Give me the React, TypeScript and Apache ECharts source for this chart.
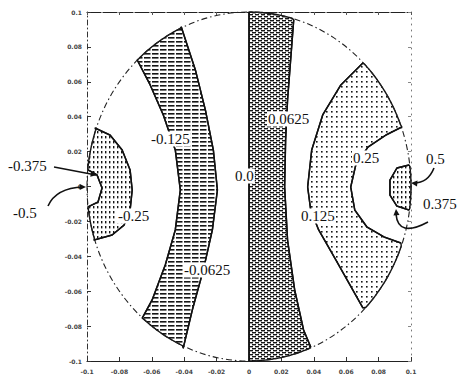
import React, { useEffect, useRef } from "react";
import * as echarts from "echarts";

// Axis extent (data units)
const AXIS_MIN = -0.1;
const AXIS_MAX = 0.1;
const AXIS_STEP = 0.02;
const DISK_RADIUS = 0.1;

// Contour lines, each from top (circle) to bottom (circle), [x, y]
const contourM0375 = [[-0.0994, 0.0095], [-0.0938, 0.0066], [-0.0907, -0.0009], [-0.0932, -0.0089], [-0.0994, -0.0117]];
const contourM025 = [[-0.095, 0.0335], [-0.0858, 0.0295], [-0.0783, 0.0209], [-0.0734, 0.0095], [-0.0721, -0.002], [-0.0734, -0.0135], [-0.0771, -0.0221], [-0.0845, -0.0278], [-0.0957, -0.0307]];
const contourM0125 = [[-0.069, 0.0725], [-0.061, 0.0582], [-0.0529, 0.041], [-0.0455, 0.0209], [-0.0424, -0.002], [-0.0455, -0.0249], [-0.0517, -0.045], [-0.0598, -0.065], [-0.0659, -0.0754]];
const contourM00625 = [[-0.0418, 0.0914], [-0.0331, 0.0668], [-0.0269, 0.0438], [-0.022, 0.0209], [-0.0195, -0.002], [-0.0226, -0.0249], [-0.0282, -0.0479], [-0.035, -0.0708], [-0.0406, -0.0926]];
const contour0 = [[0, 0.1], [0, -0.1]];
const contourP00625 = [[0.0276, 0.0954], [0.0257, 0.0725], [0.0238, 0.0496], [0.0226, 0.0266], [0.022, -0.0003], [0.0238, -0.0307], [0.0282, -0.0593], [0.0337, -0.0822], [0.0381, -0.092]];
const contourP0125 = [[0.0703, 0.0708], [0.0567, 0.0582], [0.0455, 0.041], [0.0387, 0.0209], [0.0362, -0.0003], [0.0381, -0.0135], [0.043, -0.0249], [0.0536, -0.0421], [0.0703, -0.0696]];
const contourP025 = [[0.0944, 0.0341], [0.0845, 0.0295], [0.0734, 0.0226], [0.0659, 0.0123], [0.0628, -0.0003], [0.0653, -0.0135], [0.0728, -0.0232], [0.0833, -0.0289], [0.0938, -0.0324]];
const contourP0375 = [[0.0988, 0.0123], [0.0913, 0.0106], [0.087, 0.0037], [0.087, -0.0049], [0.0913, -0.0112], [0.0988, -0.0135]];

const allContours = [contourM0375, contourM025, contourM0125, contourM00625, contour0, contourP00625, contourP0125, contourP025, contourP0375];

// Contour labels
const labelTexts = ["-0.375", "-0.5", "-0.25", "-0.125", "-0.0625", "0.0", "0.0625", "0.25", "0.125", "0.5", "0.375"];

type Pt = number[];

function arcBetween(p: Pt, q: Pt, n = 28): Pt[] {
  const a1 = Math.atan2(p[1], p[0]);
  let d = Math.atan2(q[1], q[0]) - a1;
  while (d > Math.PI) d -= 2 * Math.PI;
  while (d <= -Math.PI) d += 2 * Math.PI;
  const out: Pt[] = [];
  for (let i = 1; i < n; i++) {
    const t = a1 + (d * i) / n;
    out.push([DISK_RADIUS * Math.cos(t), DISK_RADIUS * Math.sin(t)]);
  }
  return out;
}

function regionPoints(a: Pt[], b: Pt[] | null): Pt[] {
  if (!b) return [...a, ...arcBetween(a[a.length - 1], a[0])];
  const rb = [...b].reverse();
  return [...a, ...arcBetween(a[a.length - 1], rb[0]), ...rb, ...arcBetween(rb[rb.length - 1], a[0])];
}

function makePattern(kind: string) {
  const cv = document.createElement("canvas");
  let w = 5, h = 5;
  if (kind === "dots") { w = 5; h = 5; }
  if (kind === "vdots") { w = 4; h = 5; }
  if (kind === "dash") { w = 6; h = 4; }
  if (kind === "lines") { w = 8; h = 4; }
  cv.width = w; cv.height = h;
  const ctx = cv.getContext("2d")!;
  ctx.fillStyle = "#161616";
  if (kind === "dots") ctx.fillRect(1, 1, 1.6, 1.6);
  if (kind === "vdots") ctx.fillRect(1, 1, 1.4, 2.4);
  if (kind === "dash") { ctx.fillRect(0, 0, 4, 1.4); ctx.fillRect(3, 2, 3, 1.4); ctx.fillRect(0, 2, 1, 1.4); }
  if (kind === "lines") { ctx.fillRect(0, 1, 6.5, 1.6); }
  return { image: cv, repeat: "repeat", imageWidth: w, imageHeight: h };
}

export default function App() {
  const ref = useRef<HTMLDivElement>(null);
  useEffect(() => {
    if (!ref.current) return;
    const chart = echarts.init(ref.current, null, { renderer: "svg" });
    const pats: Record<string, any> = {
      dots: makePattern("dots"),
      vdots: makePattern("vdots"),
      dash: makePattern("dash"),
      lines: makePattern("lines"),
    };
    const regions: { a: Pt[]; b: Pt[] | null; kind: string }[] = [
      { a: contourM025, b: contourM0375, kind: "vdots" },
      { a: contourM0125, b: contourM00625, kind: "lines" },
      { a: contour0, b: contourP00625, kind: "dash" },
      { a: contourP0125, b: contourP025, kind: "dots" },
      { a: contourP0375, b: null, kind: "vdots" },
    ];
    const serif = "'Liberation Serif', 'DejaVu Serif', serif";
    const txt = (text: string, x: number, y: number, bg = true) => ({
      type: "text", x, y,
      style: {
        text, fill: "#111", font: `15px ${serif}`, textAlign: "left", textVerticalAlign: "middle",
        backgroundColor: bg ? "#fff" : undefined, padding: bg ? [0, 1] : 0,
      },
      z: 100,
    });
    const arrowHead = (tip: number[], from: number[]) => {
      const ang = Math.atan2(tip[1] - from[1], tip[0] - from[0]);
      const L = 7, W = 0.45;
      return {
        type: "polygon",
        shape: { points: [tip, [tip[0] - L * Math.cos(ang - W), tip[1] - L * Math.sin(ang - W)], [tip[0] - L * Math.cos(ang + W), tip[1] - L * Math.sin(ang + W)]] },
        style: { fill: "#111" }, z: 100,
      };
    };
    const curve = (p1: number[], c: number[], p2: number[]) => ({
      type: "bezierCurve",
      shape: { x1: p1[0], y1: p1[1], cpx1: c[0], cpy1: c[1], x2: p2[0], y2: p2[1] },
      style: { stroke: "#111", lineWidth: 1.6, fill: "none" }, z: 100,
    });
    const axisLabel = { fontSize: 6, color: "#444", fontWeight: "bold" as const, fontFamily: "DejaVu Sans" };
    chart.setOption({
      animation: false,
      backgroundColor: "#fff",
      grid: { left: 87, right: 46, top: 12, bottom: 17 },
      xAxis: [
        {
          type: "value", min: AXIS_MIN, max: AXIS_MAX, interval: AXIS_STEP, position: "bottom",
          axisLine: { show: true, onZero: false, lineStyle: { color: "#222", width: 1.2 } },
          axisTick: { show: true, inside: true, length: 4, lineStyle: { color: "#333" } },
          axisLabel: { ...axisLabel, margin: 7 },
          splitLine: { show: false },
        },
        {
          type: "value", min: AXIS_MIN, max: AXIS_MAX, interval: AXIS_STEP, position: "top",
          axisLine: { show: true, onZero: false, lineStyle: { color: "#222", width: 1.2, type: [14, 2] } },
          axisTick: { show: true, inside: true, length: 3, lineStyle: { color: "#555" } },
          axisLabel: { show: false },
          splitLine: { show: false },
        },
      ],
      yAxis: [
        {
          type: "value", min: AXIS_MIN, max: AXIS_MAX, interval: AXIS_STEP, position: "left",
          axisLine: { show: true, onZero: false, lineStyle: { color: "#333", width: 1, type: [5, 3, 1, 3] } },
          axisTick: { show: true, inside: true, length: 4, lineStyle: { color: "#333" } },
          axisLabel: { ...axisLabel, margin: 5 },
          splitLine: { show: false },
        },
        {
          type: "value", min: AXIS_MIN, max: AXIS_MAX, interval: AXIS_STEP, position: "right",
          axisLine: { show: true, onZero: false, lineStyle: { color: "#777", width: 1, type: [1, 5] } },
          axisTick: { show: true, inside: true, length: 3, lineStyle: { color: "#888" } },
          axisLabel: { show: false },
          splitLine: { show: false },
        },
      ],
      series: [
        {
          type: "custom",
          coordinateSystem: "cartesian2d",
          xAxisIndex: 0, yAxisIndex: 0,
          silent: true,
          data: [[0, 0]],
          renderItem: (_params: any, api: any) => {
            const children: any[] = [];
            for (const r of regions) {
              const pts = regionPoints(r.a, r.b).map((p) => api.coord(p));
              children.push({ type: "polygon", shape: { points: pts }, style: { fill: pats[r.kind], stroke: "#111", lineWidth: 1.4, lineJoin: "round" } });
            }
            const c = api.coord([0, 0]);
            const s = api.size([DISK_RADIUS, DISK_RADIUS]);
            children.push({ type: "ellipse", shape: { cx: c[0], cy: c[1], rx: s[0], ry: s[1] }, style: { fill: "none", stroke: "#222", lineWidth: 1.1, lineDash: [6, 3, 1.5, 3] } });
            for (const cl of allContours) {
              children.push({ type: "polyline", shape: { points: cl.map((p) => api.coord(p)) }, style: { fill: "none", stroke: "#111", lineWidth: 1.5, lineJoin: "round" } });
            }
            return { type: "group", children };
          },
        },
      ],
      graphic: [
        txt(labelTexts[0], 8, 166, false),
        txt(labelTexts[1], 13, 213, false),
        txt(labelTexts[2], 117, 216),
        txt(labelTexts[3], 150, 139),
        txt(labelTexts[4], 183, 270),
        txt(labelTexts[5], 234, 176),
        txt(labelTexts[6], 267, 119),
        txt(labelTexts[7], 352, 158),
        txt(labelTexts[8], 300, 216),
        txt(labelTexts[9], 426, 159, false),
        txt(labelTexts[10], 423, 204, false),
        { type: "line", shape: { x1: 54, y1: 167, x2: 96, y2: 175 }, style: { stroke: "#111", lineWidth: 1.5 }, z: 100 },
        arrowHead([97, 175], [54, 167]),
        curve([48, 206], [56, 188], [83, 187]),
        arrowHead([86, 187], [70, 187]),
        curve([434, 168], [428, 183], [414, 183]),
        arrowHead([411, 183], [422, 184]),
        curve([428, 222], [398, 238], [396, 214]),
        arrowHead([396, 209], [397, 222]),
      ],
    });
    return () => chart.dispose();
  }, []);
  return <div ref={ref} style={{ position: "fixed", left: 0, top: 0, width: 457, height: 378 }} />;
}
